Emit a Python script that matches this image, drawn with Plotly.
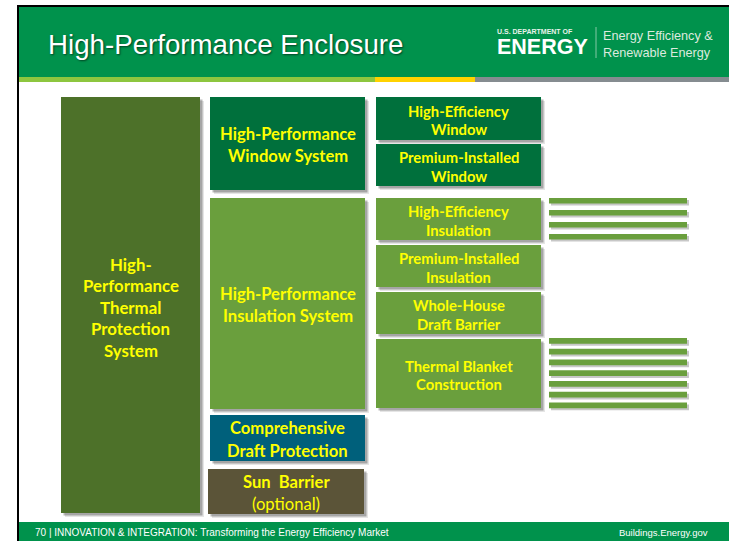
import plotly.graph_objects as go

W, H = 729, 541

# ---------------- content ----------------
title_text = "High-Performance Enclosure"
logo_small = "U.S. DEPARTMENT OF"
logo_big = "ENERGY"
logo_right = ["Energy Efficiency &", "Renewable Energy"]
footer_left = "70 | INNOVATION & INTEGRATION: Transforming the Energy Efficiency Market"
footer_right = "Buildings.Energy.gov"

col1_labels = [["High-", "Performance", "Thermal", "Protection", "System"]]
col2_labels = [["High-Performance", "Window System"],
               ["High-Performance", "Insulation System"],
               ["Comprehensive", "Draft Protection"],
               ["Sun  Barrier", "(optional)"]]
col2_bold = [[True, True], [True, True], [True, True], [True, False]]
col3_labels = [["High-Efficiency", "Window"],
               ["Premium-Installed", "Window"],
               ["High-Efficiency", "Insulation"],
               ["Premium-Installed", "Insulation"],
               ["Whole-House", "Draft Barrier"],
               ["Thermal Blanket", "Construction"]]
stripe_counts = [4, 7]

# ---------------- geometry / style ----------------
C_HEADER = "#00924C"
C_OLIVE = "#4D7129"
C_DKGREEN = "#00703C"
C_LTGREEN = "#6A9F3D"
C_TEAL = "#00607B"
C_BROWN = "#5B5438"
C_TEXT = "#FFFF00"

col1_boxes = [(61, 200, 97, 513, C_OLIVE)]
col2_boxes = [(210, 365, 97, 190, C_DKGREEN),
              (210, 365, 198, 409, C_LTGREEN),
              (210, 365, 415, 461, C_TEAL),
              (208, 364, 469, 514, C_BROWN)]
col3_boxes = [(376, 541, 97, 140, C_DKGREEN),
              (376, 541, 144, 186, C_DKGREEN),
              (376, 541, 198, 240, C_LTGREEN),
              (376, 541, 245, 287, C_LTGREEN),
              (376, 541, 292, 334, C_LTGREEN),
              (376, 541, 339, 408, C_LTGREEN)]
stripe_x = (549, 687)
stripe_y0 = [198, 338]
stripe_step = [12.0, 10.75]
stripe_h = [5.5, 5.8]

BOX_FONT = "Lato, 'Open Sans', sans-serif"
SANS = "'Liberation Sans', Arial, sans-serif"

fig = go.Figure()
fig.add_trace(go.Scatter(x=[0, W], y=[0, H], mode="markers",
                         marker=dict(opacity=0), hoverinfo="skip", showlegend=False))

shapes = []
annos = []


def rect(x0, x1, y0, y1, color):
    shapes.append(dict(type="rect", xref="x", yref="y", x0=x0, x1=x1, y0=y0, y1=y1,
                       fillcolor=color, line=dict(width=0), layer="above"))


def box(x0, x1, y0, y1, color):
    rect(x0 + 4, x1 + 4, y0 + 4, y1 + 4, "rgba(0,0,0,0.10)")
    rect(x0 + 2.5, x1 + 2.5, y0 + 2.5, y1 + 2.5, "rgba(0,0,0,0.28)")
    rect(x0, x1, y0, y1, color)


def text(x, y, s, size, color, family, xanchor="center", shadow=None, bold=False):
    f = dict(size=size, color=color, family=family)
    if shadow:
        f["shadow"] = shadow
    annos.append(dict(x=x, y=y, xref="x", yref="y", text=("<b>%s</b>" % s) if bold else s,
                      showarrow=False, xanchor=xanchor, yanchor="middle", font=f,
                      borderpad=0))


def box_lines(b, lines, bolds, size, spacing, offset=1.5):
    x0, x1, y0, y1, _ = b
    cx = (x0 + x1) / 2
    cy = (y0 + y1) / 2 + offset
    n = len(lines)
    for i, (ln, bd) in enumerate(zip(lines, bolds)):
        y = cy + (i - (n - 1) / 2) * spacing
        text(cx, y, ln, size, C_TEXT, BOX_FONT, bold=bd)


# slide frame and header
rect(17, W, 5, 7, "#000000")
rect(17, 19, 5, H, "#000000")
rect(19, W, 7, 77, C_HEADER)
rect(19, 375, 77, 82, "#8DC63F")
rect(375, 475, 77, 82, "#FFD200")
rect(475, W, 77, 82, "#858C90")
rect(19, W, 522, H, C_HEADER)

text(47, 44.5, title_text, 27.7, "#FFFFFF", SANS, xanchor="left",
     shadow="1px 1px 2px rgba(0,0,0,0.55)")
text(496, 31, logo_small, 7, "#E8F2EA", SANS, xanchor="left", bold=True)
text(495.5, 46.5, logo_big, 21.5, "#FFFFFF", SANS, xanchor="left", bold=True)
shapes.append(dict(type="line", xref="x", yref="y", x0=596, x1=596, y0=27, y1=58,
                   line=dict(color="rgba(220,235,225,0.6)", width=1), layer="above"))
text(602, 35.5, logo_right[0], 12.7, "#DCEADF", SANS, xanchor="left")
text(602, 52.5, logo_right[1], 12.7, "#DCEADF", SANS, xanchor="left")

text(34, 532.5, footer_left, 10, "#FFFFFF", SANS, xanchor="left")
text(709, 532.5, footer_right, 9.5, "#FFFFFF", SANS, xanchor="right")

# boxes
for b in col1_boxes + col2_boxes + col3_boxes:
    box(*b)

# stripes (layers)
for g, cnt in enumerate(stripe_counts):
    for i in range(cnt):
        y0 = stripe_y0[g] + i * stripe_step[g]
        y1 = y0 + stripe_h[g]
        rect(stripe_x[0] + 2, stripe_x[1] + 2, y0 + 2, y1 + 2, "rgba(0,0,0,0.22)")
        rect(stripe_x[0], stripe_x[1], y0, y1, C_LTGREEN)

# labels
for b, lines in zip(col1_boxes, col1_labels):
    box_lines(b, lines, [True] * len(lines), 16.8, 21.5, offset=2)
for b, lines, bolds in zip(col2_boxes, col2_labels, col2_bold):
    box_lines(b, lines, bolds, 16.6, 22.2)
for b, lines in zip(col3_boxes, col3_labels):
    box_lines(b, lines, [True] * len(lines), 14.8, 18.5)

fig.update_layout(
    width=W, height=H,
    margin=dict(l=0, r=0, t=0, b=0),
    paper_bgcolor="#FFFFFF", plot_bgcolor="#FFFFFF",
    xaxis=dict(range=[0, W], visible=False, fixedrange=True),
    yaxis=dict(range=[H, 0], visible=False, fixedrange=True),
    shapes=shapes, annotations=annos, showlegend=False,
)

fig.write_html("out.html", config={"displayModeBar": False},
               post_script="document.body.style.margin='0';document.body.style.overflow='hidden';")
